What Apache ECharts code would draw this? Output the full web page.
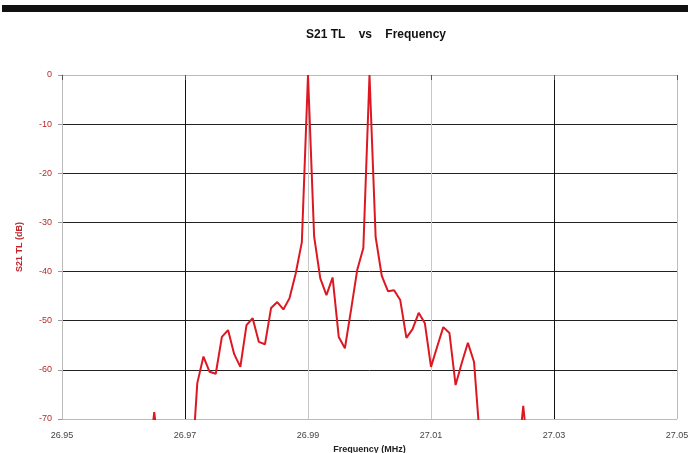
<!DOCTYPE html>
<html>
<head>
<meta charset="utf-8">
<script src="https://cdn.jsdelivr.net/npm/echarts@6/dist/echarts.min.js"></script>
<style>
  html, body { margin: 0; padding: 0; background: #fff; }
  #main { width: 688px; height: 453px; }
</style>
</head>
<body>
<div id="main"></div>
<script>
// frequency points (MHz)
const freqs = [
  26.964, 26.965, 26.966, 26.967, 26.968, 26.969, 26.970, 26.971, 26.972, 26.973,
  26.974, 26.975, 26.976, 26.977, 26.978, 26.979, 26.980, 26.981, 26.982, 26.983,
  26.984, 26.985, 26.986, 26.987, 26.988, 26.989, 26.990, 26.991, 26.992, 26.993,
  26.994, 26.995, 26.996, 26.997, 26.998, 26.999, 27.000, 27.001, 27.002, 27.003,
  27.004, 27.005, 27.006, 27.007, 27.008, 27.009, 27.010, 27.011, 27.012, 27.013,
  27.014, 27.015, 27.016, 27.017, 27.018, 27.019, 27.020, 27.021, 27.022, 27.023,
  27.024, 27.025, 27.026
];
// S21 TL (dB)
const s21 = [
  -80, -68.6, -80, -84, -86, -85, -83, -82, -62.7, -57.3,
  -60.4, -60.8, -53.3, -51.9, -56.8, -59.4, -50.9, -49.5, -54.3, -54.8,
  -47.4, -46.2, -47.7, -45.4, -40.4, -34, 0, -32.9, -41.4, -44.8,
  -41.2, -53.3, -55.6, -47.8, -39.7, -35.2, 0, -33, -40.9, -44,
  -43.8, -45.8, -53.5, -51.7, -48.4, -50.5, -59.4, -55.3, -51.3, -52.5,
  -63.1, -58.6, -54.5, -58.4, -75, -80, -84, -85, -83, -82,
  -80, -67.3, -80
];
const xTickLabels = ['26.95', '26.97', '26.99', '27.01', '27.03', '27.05'];
const yTickLabels = ['-70', '-60', '-50', '-40', '-30', '-20', '-10', '0'];

const myChart = echarts.init(document.getElementById('main'));
myChart.setOption({
  animation: false,
  textStyle: { fontFamily: 'Liberation Sans, Arial, sans-serif' },
  title: {
    text: 'S21 TL    vs    Frequency',
    left: 371,
    top: 24,
    textAlign: 'center',
    textStyle: { fontSize: 12, fontWeight: 'bold', color: '#111' },
  },
  graphic: [
    {
      type: 'rect',
      shape: { x: 2, y: 5, width: 686, height: 7 },
      style: { fill: '#111' },
    },
  ],
  grid: { left: 62, right: 11, top: 75, bottom: 34, outerBoundsMode: 'none' },
  xAxis: {
    type: 'value',
    min: 26.95,
    max: 27.05,
    interval: 0.02,
    name: 'Frequency (MHz)',
    nameLocation: 'middle',
    nameGap: 25,
    nameTextStyle: { fontSize: 9, fontWeight: 'bold', color: '#222' },
    axisLine: { lineStyle: { color: '#bbb', width: 1 } },
    axisTick: { show: true, length: 5, lineStyle: { color: '#555' } },
    axisLabel: {
      fontSize: 9,
      color: '#444',
      margin: 12,
      formatter: (v) => xTickLabels[Math.round((v - 26.95) / 0.02)],
    },
    splitLine: {
      show: true,
      lineStyle: { color: ['#bbb', '#111', '#c8c8c8', '#c8c8c8', '#111', '#bbb'], width: 1 },
    },
  },
  yAxis: {
    type: 'value',
    min: -70,
    max: 0,
    interval: 10,
    name: 'S21 TL (dB)',
    nameLocation: 'middle',
    nameGap: 38,
    nameTextStyle: { fontSize: 9, fontWeight: 'bold', color: '#c0282d' },
    axisLine: { show: true, lineStyle: { color: '#bbb', width: 1 } },
    axisTick: { show: true, length: 4, lineStyle: { color: '#999' } },
    axisLabel: {
      fontSize: 9,
      color: '#b52a2a',
      margin: 10,
      formatter: (v) => yTickLabels[Math.round((v + 70) / 10)],
    },
    splitLine: {
      show: true,
      lineStyle: { color: ['#bbb', '#222', '#222', '#222', '#222', '#222', '#222', '#bbb'], width: 1 },
    },
  },
  series: [
    {
      type: 'line',
      showSymbol: false,
      clip: true,
      lineStyle: { color: '#dd1822', width: 2 },
      data: freqs.map((f, i) => [f, s21[i]]),
    },
  ],
});
</script>
</body>
</html>
